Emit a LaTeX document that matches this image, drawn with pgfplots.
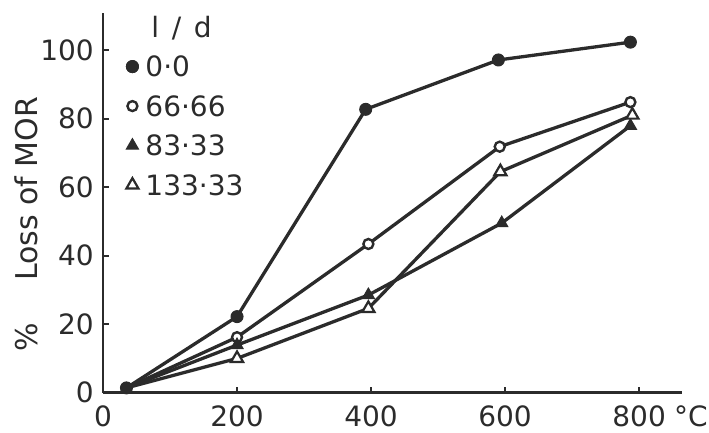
\documentclass[border=0pt]{standalone}
\usepackage{pgfplots}
\pgfplotsset{compat=1.18}
\usepackage{fontspec}
\setmainfont{DejaVu Sans}
\definecolor{ink}{HTML}{2B2B2B}
\begin{document}
\begin{tikzpicture}
\useasboundingbox (-103pt,-40.3pt) rectangle (606pt,392.7pt);
\begin{axis}[
  scale only axis, width=579pt, height=380pt,
  xmin=0, xmax=864, ymin=0, ymax=110.9,
  axis lines=left,
  axis line style={-, line width=2.6pt, ink},
  xtick={0,200,400,600,800},
  xticklabels={0,200,400,600,{800\makebox[0pt][l]{\hspace{0.3em}°C}}},
  ytick={0,20,40,60,80,100},
  tick align=inside, major tick length=6pt,
  tick style={line width=2pt, ink},
  /pgf/number format/assume math mode=true,
  tick label style={font=\fontsize{28}{34}\selectfont, text=ink, inner sep=1pt},
  xticklabel style={yshift=-12pt},
  yticklabel style={xshift=-8pt},
  ylabel={\%\hspace{1.4em}Loss of MOR},
  ylabel style={font=\fontsize{30}{36}\selectfont, text=ink, at={(axis description cs:-0.133,0.444)}, anchor=center},
  legend cell align=left,
  legend style={at={(axis description cs:0.04,0.989)}, anchor=north west, draw=none, fill=none,
     inner sep=0pt, row sep=19.5pt, font=\fontsize{28}{34}\selectfont, text=ink,
     nodes={text height=20pt, text depth=0pt, inner sep=0pt},
     /tikz/every odd column/.append style={column sep=7pt}},
  legend image code/.code={\draw[#1] plot[only marks] coordinates {(0pt,0pt) (0pt,0pt)};},
  every axis plot/.append style={line width=3.3pt, ink},
]
\addlegendimage{empty legend}
\addlegendentry{\hspace{6pt}l\hspace{0.45em}/\hspace{0.45em}d}
\addplot[mark=*, mark size=6pt, mark options={fill=ink, line width=1pt}]
  coordinates {(35,1.4) (200,22.2) (392,82.7) (590,97.1) (787,102.3)};
\addlegendentry{0·0}
\addplot[mark=*, mark size=5pt, mark indices={2,3,4,5}, mark options={fill=white, line width=2.4pt}]
  coordinates {(35,1.4) (200,16.2) (396,43.4) (592,71.8) (787,84.8)};
\addlegendentry{66·66}
\addplot[mark=triangle*, mark size=7pt, mark indices={2,3,4,5}, mark options={fill=ink, line width=1pt}]
  coordinates {(35,1.4) (200,13.9) (396,28.5) (595,49.5) (787,77.9)};
\addlegendentry{83·33}
\addplot[mark=triangle*, mark size=7pt, mark indices={2,3,4,5}, mark options={fill=white, line width=2.2pt}]
  coordinates {(35,1.4) (200,10) (396,24.6) (593,64.5) (790,81)};
\addlegendentry{133·33}
\end{axis}
\end{tikzpicture}
\end{document}
